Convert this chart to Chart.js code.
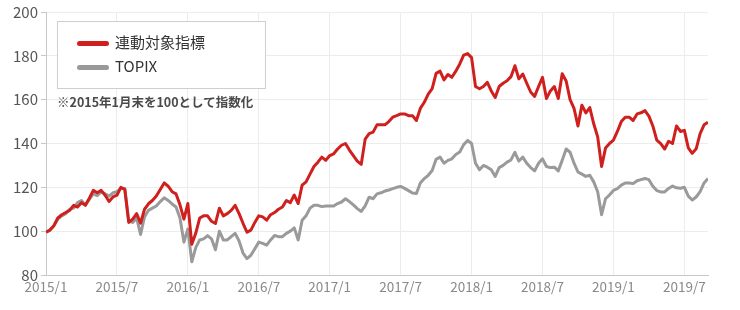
<!DOCTYPE html>
<html>
<head>
<meta charset="utf-8">
<script src="https://cdn.jsdelivr.net/npm/chart.js@4"></script>
<style>
  body { margin: 0; background: #fff; font-family: "Noto Sans CJK JP", "Noto Sans", sans-serif; }
  #wrap { position: relative; width: 740px; height: 310px; }
  #legend {
    position: absolute; left: 57px; top: 21px; width: 209px; height: 68px;
    border: 1px solid #cfcfcf; background: #fff; box-sizing: border-box;
  }
  .item { position: absolute; left: 19px; height: 20px; font-size: 15px; color: #333; line-height: 20px; }
  .item span.sw { position: absolute; left: 0; top: 8px; width: 32px; height: 5px; border-radius: 3px; }
  .item span.tx { position: absolute; left: 38px; top: -1px; white-space: nowrap; }
  #note { position: absolute; left: 57px; top: 92px; font-size: 12.5px; font-weight: bold; color: #4a4a4a; white-space: nowrap; }
</style>
</head>
<body>
<div id="wrap">
  <canvas id="chart" width="740" height="310"></canvas>
  <div id="legend">
    <div class="item" style="top:11px"><span class="sw" style="background:#d0201e"></span><span class="tx">連動対象指標</span></div>
    <div class="item" style="top:35px"><span class="sw" style="background:#999"></span><span class="tx">TOPIX</span></div>
  </div>
  <div id="note">※2015年1月末を100として指数化</div>
</div>
<script>
// ticks on the month axis (0 = 2015/1)
const tickMonths = [0, 6, 12, 18, 24, 30, 36, 42, 48, 54];
const tickLabels = ['2015/1', '2015/7', '2016/1', '2016/7', '2017/1', '2017/7', '2018/1', '2018/7', '2019/1', '2019/7'];

// one value every third of a month
const stepMonths = 1 / 3;

// 連動対象指標
const indexValues = [
  99.5, 100.5, 102.5, 106, 107.5, 108.5,
  109.5, 111.8, 111, 113, 111.8, 115,
  118.6, 117.5, 118.6, 116.4, 113.5, 115.6,
  116.4, 120, 119, 104, 105.5, 108,
  103.6, 110, 112.5, 114, 116, 119,
  122, 120.5, 118, 117, 112, 105.5,
  112.6, 94, 99, 106, 107, 107,
  104.5, 103.5, 110.5, 107, 108, 109.5,
  111.8, 108, 103.6, 99.5, 100.5, 104,
  107, 106.5, 105, 107.5, 108.5, 110,
  111, 114, 113, 116.5, 112.6, 121,
  122.5, 126, 129.5, 131.5, 133.8, 132.3,
  134.5, 135.3, 137.5, 139.2, 140, 137,
  134.5, 132, 130.5, 142, 144.5, 145.2,
  148.5, 148.5, 148.5, 150, 152, 152.7,
  153.5, 153.5, 152.7, 152.7, 150.5, 156,
  158.8, 162.5, 165, 172, 173, 169,
  171.5, 170.2, 173, 176.3, 180.3, 181,
  179.2, 166, 165, 166, 167.9, 164,
  161, 166, 167.5, 168.6, 170.5, 175.5,
  169.5, 171.7, 167.5, 163.5, 161.5, 166,
  170.2, 160.5, 164, 166, 160.5, 171.8,
  168.5, 160, 156, 148, 157.5, 154,
  156.4, 149, 143, 129.5, 138, 140,
  141.5, 145.5, 150, 152, 152, 150.5,
  153.5, 154, 155, 152.5, 148, 141.5,
  139.9, 137.5, 141, 140, 148, 145.5,
  146, 138, 135.5, 137.6, 144.5, 148.5,
  149.7
];

// TOPIX
const topixValues = [
  99.5, 100.5, 102.5, 105.5, 107, 108,
  110, 110.5, 113, 114, 112, 114.5,
  117, 116.2, 118, 117, 116, 117.5,
  118, 119.5, 119.5, 104.5, 104, 106,
  98.5, 106.5, 109.5, 110.5, 111.5, 113.5,
  115.2, 114, 112.4, 111, 106, 95,
  101, 86, 92.5, 96, 96.5, 98,
  96.5, 91.5, 100, 96, 96, 97.5,
  99, 95.5, 90, 87.5, 89, 92,
  95, 94.4, 93.6, 96, 98, 97.5,
  97.5, 99, 100, 101.5, 96, 105,
  107, 110.5, 111.8, 111.8, 111.2, 111.5,
  111.5, 111.5, 112.6, 113.3, 114.8, 113.5,
  112, 110.3, 109, 111.5, 115.5, 114.8,
  117, 117.5, 118.3, 118.8, 119.4, 120,
  120.4, 119.5, 118.5, 117.4, 117.2, 122,
  124, 125.5, 127.7, 132.8, 133.8, 131,
  132.3, 133, 135, 136.1, 139.5, 141.4,
  140, 131, 128, 130, 129.2, 128,
  125, 129, 130, 131.5, 132.5, 136,
  132, 133.8, 131, 129, 127.5, 131,
  133, 129.5, 129, 129.2, 127.5, 132.3,
  137.5, 136, 131, 127, 126, 125,
  125.5, 122.5, 118, 107.5, 114.8, 116.5,
  118.6, 119.4, 121, 122, 122, 121.7,
  123, 123.5, 124, 123.5, 120.5, 118.5,
  117.9, 117.9, 119.5, 120.6, 119.8, 119.6,
  120, 116, 114.2, 115.6, 118, 122,
  124
];

function toPoints(values) {
  return values.map((v, i) => ({ x: i * stepMonths, y: v }));
}

const lastX = (indexValues.length - 1) * stepMonths;

new Chart(document.getElementById('chart'), {
  type: 'line',
  data: {
    datasets: [
      { label: '連動対象指標', data: toPoints(indexValues), borderColor: '#d0201e', borderWidth: 3 },
      { label: 'TOPIX', data: toPoints(topixValues), borderColor: '#9a9a9a', borderWidth: 3 }
    ]
  },
  options: {
    responsive: false,
    animation: false,
    events: [],
    elements: { point: { radius: 0 }, line: { tension: 0, borderJoinStyle: 'round' } },
    layout: { padding: { top: 11, right: 32, left: 0, bottom: 0 } },
    plugins: { legend: { display: false }, tooltip: { enabled: false } },
    scales: {
      x: {
        type: 'linear',
        min: 0,
        max: lastX,
        afterBuildTicks: scale => { scale.ticks = tickMonths.map(v => ({ value: v })); },
        afterFit: scale => { scale.height = 35; },
        ticks: {
          callback: (v) => tickLabels[tickMonths.indexOf(v)],
          color: '#8a8a8a',
          font: { family: '"Noto Sans CJK JP", "Noto Sans", sans-serif', size: 13.5 },
          padding: 4,
          maxRotation: 0
        },
        grid: { color: '#ececec', drawTicks: false },
        border: { color: '#c8c8c8', width: 1 }
      },
      y: {
        min: 80,
        max: 200,
        afterFit: scale => { scale.width = 46; },
        ticks: {
          stepSize: 20,
          color: '#555',
          font: { family: '"Noto Sans CJK JP", "Noto Sans", sans-serif', size: 15 },
          padding: 3
        },
        grid: { color: '#ececec', tickLength: 5, tickColor: '#c8c8c8' },
        border: { color: '#c8c8c8', width: 1 }
      }
    }
  }
});
</script>
</body>
</html>
